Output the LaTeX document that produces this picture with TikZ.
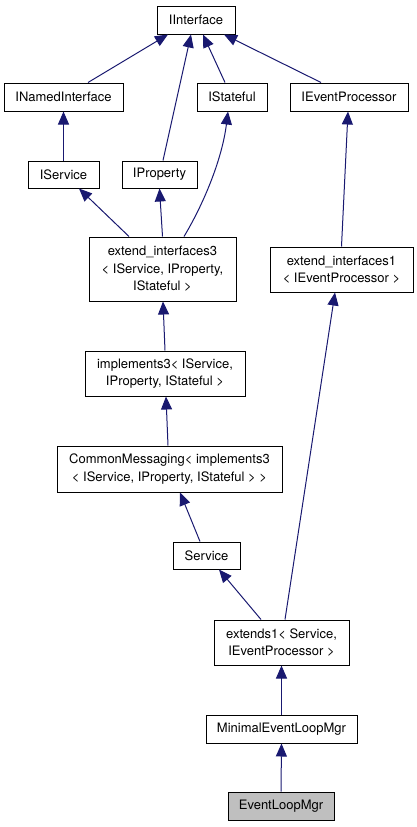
\documentclass[tikz,border=0pt]{standalone}
\usepackage{fontspec}
\setmainfont{TeX Gyre Heros}
\usetikzlibrary{arrows.meta}
\definecolor{edgeblue}{HTML}{191970}
\tikzset{
  cls/.style={draw, line width=1pt, align=center, inner sep=2pt, font=\fontsize{13}{17.5}\selectfont},
  inherit/.style={draw=edgeblue, line width=1pt, -{Triangle[width=11pt,length=13pt]}, edgeblue}
}
\begin{document}
\begin{tikzpicture}[x=1pt, y=-1pt]
        \useasboundingbox (0,0) rectangle (417,827);
        % Nodes
        \node (iinterface) [cls, minimum width=78, minimum height=28] at (196, 20) {IInterface};
        \node (inamed) [cls, minimum width=119, minimum height=28] at (63.5, 97) {INamedInterface};
        \node (istateful) [cls, minimum width=70, minimum height=28] at (232, 97) {IStateful};
        \node (ievent) [cls, minimum width=118, minimum height=28] at (349, 97) {IEventProcessor};
        \node (iservice) [cls, minimum width=71, minimum height=27] at (63.5, 174.5) {IService};
        \node (iproperty) [cls, minimum width=75, minimum height=27] at (159.5, 174.5) {IProperty};
        \node (extif3) [cls, minimum width=147, minimum height=64] at (162.5, 269) {extend\_interfaces3\hspace{13pt}\\< IService, IProperty,\\IStateful >};
        \node (extif1) [cls, minimum width=143, minimum height=45] at (341.5, 269.5) {extend\_interfaces1\\< IEventProcessor >};
        \node (impl3) [cls, minimum width=160, minimum height=45] at (165, 373.5) {implements3< IService,\\IProperty, IStateful >};
        \node (commsg) [cls, minimum width=225, minimum height=46] at (169.5, 469) {CommonMessaging< implements3\\< IService, IProperty, IStateful > >};
        \node (service) [cls, minimum width=67, minimum height=27] at (206.5, 555.5) {Service};
        \node (extends1) [cls, minimum width=135, minimum height=45] at (281.5, 642.5) {extends1< Service,\\IEventProcessor >};
        \node (minimal) [cls, minimum width=151, minimum height=28] at (281.5, 729) {MinimalEventLoopMgr};
        \node (evloop) [cls, fill=black!25, minimum width=106, minimum height=28] at (281, 806) {EventLoopMgr};

        % Edges
        \draw[inherit] ([xshift=24.5]inamed.north) -- ([xshift=-28]iinterface.south);
        \draw[inherit] ([xshift=3.5]iproperty.north) -- ([xshift=-5]iinterface.south);
        \draw[inherit] ([xshift=-7]istateful.north) -- ([xshift=7]iinterface.south);
        \draw[inherit] ([xshift=-28]ievent.north) -- ([xshift=28]iinterface.south);
        \draw[inherit] (iservice.north) -- (inamed.south);
        \draw[inherit] ([xshift=-33.5]extif3.north) -- ([xshift=15.5]iservice.south);
        \draw[inherit] (extif3.north) -- (iproperty.south);
        \draw[inherit] ([xshift=21.5]extif3.north) .. controls (203,205) and (222,160) .. ([xshift=-4]istateful.south);
        \draw[inherit] (extif1.north) -- ([xshift=-1]ievent.south);
        \draw[inherit] (impl3.north) -- ([xshift=0.5]extif3.south);
        \draw[inherit] ([xshift=-1.5]commsg.north) -- ([xshift=1]impl3.south);
        \draw[inherit] ([xshift=-6.5]service.north) -- ([xshift=10.5]commsg.south);
        \draw[inherit] ([xshift=-20.5]extends1.north) -- ([xshift=12.5]service.south);
        \draw[inherit] ([xshift=3.5]extends1.north) -- ([xshift=-6.5]extif1.south);
        \draw[inherit] (minimal.north) -- (extends1.south);
        \draw[inherit] (evloop.north) -- (minimal.south);

\end{tikzpicture}
\end{document}
